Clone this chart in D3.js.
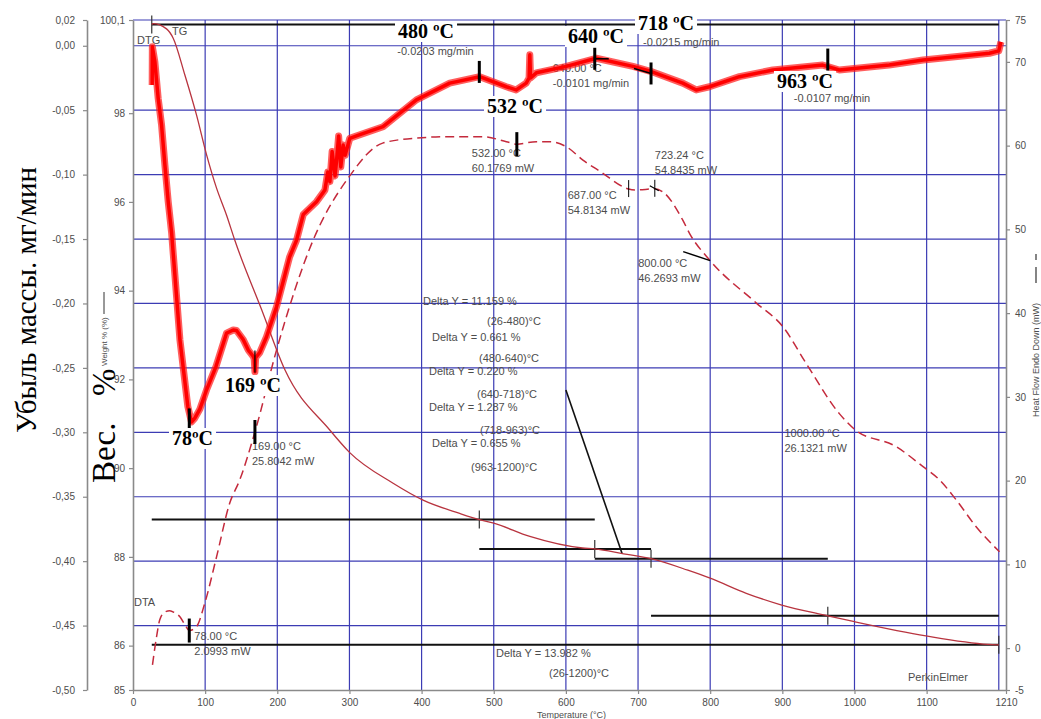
<!DOCTYPE html>
<html>
<head>
<meta charset="utf-8">
<script src="https://cdn.jsdelivr.net/npm/d3@7"></script>
<style>
  html, body { margin: 0; padding: 0; background: #fff; }
  svg { display: block; }
</style>
</head>
<body>
<svg id="chart" width="1041" height="719"></svg>
<script>
// ---------- TG: weight % vs temperature ----------
const tgTemp   = [26, 28, 46.5, 55.7, 71.9, 88, 102, 115.8, 129.7, 141, 178.6, 210.7, 272.7, 300.4, 360.5, 402, 452.8, 480, 500, 550, 623, 640, 680, 718, 769, 800, 850, 898, 963, 1000, 1099, 1185, 1200];
const tgWeight = [100.0, 100.02, 99.9, 99.69, 98.86, 97.96, 97.06, 96.31, 95.7, 95.14, 93.56, 92.21, 90.86, 90.35, 89.66, 89.28, 88.98, 88.841, 88.76, 88.46, 88.2, 88.18, 88.07, 87.96, 87.7, 87.52, 87.18, 86.92, 86.673, 86.54, 86.22, 86.03, 86.018];

// ---------- DTG: mass loss rate, mg/min ----------
const dtgTemp = [26.6, 26.8, 30.3, 34.9, 39.6, 44.2, 48.8, 53.5, 65, 76, 81, 85.7, 92.7, 102, 115, 129.7, 138.9, 143.5, 152.7, 159.6, 166.5, 168, 169, 170, 175.8, 185, 199, 217, 226.6, 236, 254.4, 266, 270, 272.9, 276, 280, 282, 285, 288, 291.3, 294, 300.5, 314.5, 346.6, 392.8, 439, 480.5, 517.5, 531, 545, 549, 550, 551, 559, 600.6, 642, 693, 718.4, 762, 780.7, 799, 840.6, 886.8, 956, 979, 1048, 1095, 1187, 1200, 1203];
const dtgRate = [-0.0304, -0.0007, -0.0124, -0.0408, -0.0615, -0.0925, -0.121, -0.145, -0.228, -0.280, -0.292, -0.289, -0.282, -0.267, -0.249, -0.223, -0.2206, -0.221, -0.228, -0.236, -0.241, -0.243, -0.253, -0.242, -0.238, -0.226, -0.2025, -0.164, -0.151, -0.131, -0.121, -0.112, -0.098, -0.1055, -0.082, -0.101, -0.090, -0.070, -0.094, -0.077, -0.085, -0.0718, -0.069, -0.0628, -0.042, -0.029, -0.024, -0.0318, -0.0343, -0.029, -0.025, -0.007, -0.025, -0.021, -0.016, -0.0097, -0.016, -0.020, -0.029, -0.0343, -0.0318, -0.024, -0.0188, -0.015, -0.0188, -0.015, -0.011, -0.0058, -0.004, 0.003];

// ---------- DTA: heat flow, mW ----------
const dtaTemp = [27, 32, 37, 44, 51, 58, 65, 72, 78, 88, 99.6, 115.8, 134, 148, 169, 199, 249.6, 298, 346, 393, 439, 485, 517.5, 532, 559, 577.5, 600.6, 623.6, 651.3, 679, 687, 697, 723.24, 734, 762, 771.5, 800, 864, 900.6, 933, 979, 1000, 1057.8, 1094.6, 1117.7, 1141, 1168.6, 1201];
const dtaHeat = [-2.0, 1.0, 3.36, 4.3, 4.47, 4.2, 3.75, 2.8, 2.0993, 2.56, 5.4, 10.9, 17.3, 20.1, 25.8042, 35.6, 48.7, 56.1, 60.3, 60.9, 61.07, 61.07, 60.47, 60.1769, 60.47, 60.47, 59.87, 58.28, 56.7, 55.1, 54.8134, 54.7, 54.8435, 54.5, 51.1, 49.5, 46.2693, 41.2, 38.4, 34.0, 28.0, 26.1321, 24.05, 21.7, 20.1, 17.7, 14.5, 11.5];

// ---------- weight-loss steps ----------
const stepRanges = [[26, 480], [480, 640], [640, 718], [718, 963], [963, 1200]];
const stepDeltas = [11.159, 0.661, 0.220, 1.287, 0.655];
const totalRange = [26, 1200];
const totalDelta = 13.982;
const startWeight = 100.0;

// ---------- DTG peaks ----------
const dtgPeakTemp = [78, 169, 480, 640, 718, 963];
const dtgPeakRate = [-0.290, -0.245, -0.0203, -0.0101, -0.0215, -0.0107];

// ---------- DTA points ----------
const dtaPointTemp = [78, 169, 532, 687, 723.24, 800, 1000];
const dtaPointHeat = [2.0993, 25.8042, 60.1769, 54.8134, 54.8435, 46.2693, 26.1321];

// ---------- ticks ----------
const tempTicks = [0, 100, 200, 300, 400, 500, 600, 700, 800, 900, 1000, 1100, 1210];
const tempGrid = [100, 200, 300, 400, 500, 600, 700, 800, 900, 1000, 1100, 1200];
const rateTicks = [0.02, 0, -0.05, -0.10, -0.15, -0.20, -0.25, -0.30, -0.35, -0.40, -0.45, -0.50];
const weightTicks = [100.1, 98, 96, 94, 92, 90, 88, 86, 85];
const heatTicks = [75, 70, 60, 50, 40, 30, 20, 10, 0, -5];

// ================= drawing =================
const svg = d3.select("#chart");
const FONT = "Arial, 'Liberation Sans', sans-serif";
const SERIF = "'Liberation Serif', 'Times New Roman', serif";
const GRID = "#3c3cb4";
const AXIS = "#8a8a8a";
const TXT = "#4d4d4d";

const x = d3.scaleLinear().domain([0, 1210]).range([133, 1006]);
const yRate = d3.scaleLinear().domain([-0.5, 0.02]).range([690, 20]);
const yWt = d3.scaleLinear().domain([85, 100.1]).range([690, 20]);
const yHeat = d3.scaleLinear().domain([-5, 75]).range([690, 20]);
const [xL, xR] = x.range();
const [yB, yT] = yRate.range();

const ru = d3.formatLocale({decimal: ",", thousands: "\u00a0", grouping: [3], currency: ["", ""], minus: "-"});

// grid
const grid = svg.append("g");
grid.selectAll("line.v").data(tempGrid).join("line")
  .attr("x1", d => x(d)).attr("x2", d => x(d)).attr("y1", yT).attr("y2", yB)
  .attr("stroke", GRID).attr("stroke-width", 1.2);
grid.selectAll("line.h").data(rateTicks.filter(d => d > -0.5)).join("line")
  .attr("x1", xL).attr("x2", xR).attr("y1", d => yRate(d)).attr("y2", d => yRate(d))
  .attr("stroke", GRID).attr("stroke-width", 1.2);

function styleAxis(g) {
  g.select(".domain").attr("stroke", AXIS).attr("stroke-width", 1.6);
  g.selectAll(".tick line").attr("stroke", AXIS).attr("stroke-width", 1.2);
  g.selectAll("text").attr("fill", TXT).attr("font-size", 10).attr("font-family", FONT);
}

svg.append("g").attr("transform", "translate(87,0)")
  .call(d3.axisLeft(yRate).tickValues(rateTicks).tickSize(4).tickSizeOuter(0).tickPadding(8)
    .tickFormat(ru.format(".2f")))
  .call(styleAxis);
svg.append("g").attr("transform", `translate(${xL},0)`)
  .call(d3.axisLeft(yWt).tickValues(weightTicks).tickSize(4).tickSizeOuter(0).tickPadding(4)
    .tickFormat(d => Number.isInteger(d) ? String(d) : ru.format(".1f")(d)))
  .call(styleAxis);
svg.append("g").attr("transform", `translate(${xR},0)`)
  .call(d3.axisRight(yHeat).tickValues(heatTicks).tickSize(4).tickSizeOuter(0).tickPadding(5)
    .tickFormat(d => String(d)))
  .call(styleAxis);
svg.append("g").attr("transform", `translate(0,${yB})`)
  .call(d3.axisBottom(x).tickValues(tempTicks).tickSize(4).tickSizeOuter(0).tickPadding(5)
    .tickFormat(d => String(d)))
  .call(styleAxis);

svg.append("text").attr("x", (xL + xR) / 2 + 2).attr("y", 717.5).attr("text-anchor", "middle")
  .attr("font-family", FONT).attr("font-size", 9).attr("fill", TXT).text("Temperature (°C)");

// ---------- step levels (black bars) ----------
const levels = [startWeight];
stepDeltas.forEach(d => levels.push(+(levels[levels.length - 1] - d).toFixed(3)));
const bars = [];
bars.push({w: startWeight, t0: totalRange[0], t1: totalRange[1]});
bars.push({w: startWeight - totalDelta, t0: totalRange[0], t1: totalRange[1]});
for (let i = 0; i < stepRanges.length - 1; i++) {
  bars.push({w: levels[i + 1], t0: stepRanges[i][0], t1: stepRanges[i + 1][1]});
}
const barG = svg.append("g");
barG.selectAll("line").data(bars).join("line")
  .attr("x1", d => x(d.t0)).attr("x2", d => x(d.t1))
  .attr("y1", d => yWt(d.w)).attr("y2", d => yWt(d.w))
  .attr("stroke", "#111").attr("stroke-width", 2);
// small ticks where each step starts / ends
const stepTicks = [{t: totalRange[0], w: startWeight}].concat(stepRanges.map((r, i) => ({t: r[1], w: levels[i + 1]})));
barG.selectAll("line.tk").data(stepTicks).join("line")
  .attr("x1", d => x(d.t)).attr("x2", d => x(d.t))
  .attr("y1", d => yWt(d.w) - 9).attr("y2", d => yWt(d.w) + 9)
  .attr("stroke", "#333").attr("stroke-width", 1.2);
// leader from the step labels to the 640-718 step
barG.append("line")
  .attr("x1", x(600)).attr("y1", yWt(91.76)).attr("x2", x(678)).attr("y2", yWt(88.07))
  .attr("stroke", "#111").attr("stroke-width", 1.6);

// ---------- step labels ----------
const stepLabelPos = [[423, 304.5, 487, 325], [432, 340.5, 479, 362], [429, 374.5, 477, 398], [429, 410.5, 480, 434], [432, 447, 471, 470.5]];
const fmt3 = d3.format(".3f");
const lab = svg.append("g").attr("font-family", FONT).attr("font-size", 11).attr("fill", TXT);
stepRanges.forEach((r, i) => {
  const p = stepLabelPos[i];
  lab.append("text").attr("x", p[0]).attr("y", p[1]).text(`Delta Y = ${fmt3(stepDeltas[i])} %`);
  lab.append("text").attr("x", p[2]).attr("y", p[3]).text(`(${r[0]}-${r[1]})°C`);
});
lab.append("text").attr("x", 496).attr("y", 656.5).text(`Delta Y = ${fmt3(totalDelta)} %`);
lab.append("text").attr("x", 549).attr("y", 677).text(`(${totalRange[0]}-${totalRange[1]})°C`);
lab.append("text").attr("x", 908).attr("y", 680.5).text("PerkinElmer");
lab.append("text").attr("x", 137).attr("y", 44).text("DTG");
lab.append("text").attr("x", 172).attr("y", 35).text("TG");
lab.append("text").attr("x", 134).attr("y", 605.5).text("DTA");

// ---------- DTA annotations ----------
const dtaLabelOff = [[5, 9.5], [-3, 18], [-45, 13], [-61, 10], [0, -30], [-72, 6], [-70, 8]];
const fmt2 = d3.format(".2f"), fmt4 = d3.format(".4f");
dtaPointTemp.forEach((t, i) => {
  const px = x(t), py = yHeat(dtaPointHeat[i]);
  const [dx, dy] = dtaLabelOff[i];
  lab.append("text").attr("x", px + dx).attr("y", py + dy).text(`${fmt2(t)} °C`);
  lab.append("text").attr("x", px + dx).attr("y", py + dy + 15).text(`${fmt4(dtaPointHeat[i])} mW`);
});

// ---------- DTG annotations ----------
const dtgLabelOff = [null, null, [-82, -17], [-42, 28], [-8, -27.5], [-34, 42]];
const fmtRate = d3.format(".4f");
dtgPeakTemp.forEach((t, i) => {
  const o = dtgLabelOff[i];
  if (!o) return;
  const px = x(t), py = yRate(dtgPeakRate[i]);
  lab.append("text").attr("x", px + o[0]).attr("y", py + o[1])
    .text(`${fmtRate(dtgPeakRate[i]).replace("\u2212", "-")} mg/min`);
});
// temperature line of the 640 peak (partly under the DTG trace)
lab.append("text").attr("x", x(640) - 42).attr("y", yRate(-0.0101) + 13).text("640.00 °C");

// ---------- curves ----------
const tgLine = d3.line().x(d => x(d[0])).y(d => yWt(d[1])).curve(d3.curveMonotoneX);
svg.append("path").datum(d3.zip(tgTemp, tgWeight)).attr("d", tgLine)
  .attr("fill", "none").attr("stroke", "#b8343f").attr("stroke-width", 1.3);

const dtaLine = d3.line().x(d => x(d[0])).y(d => yHeat(d[1])).curve(d3.curveMonotoneX);
svg.append("path").datum(d3.zip(dtaTemp, dtaHeat)).attr("d", dtaLine)
  .attr("fill", "none").attr("stroke", "#c42a3c").attr("stroke-width", 1.5)
  .attr("stroke-dasharray", "9,5");

const dtgLine = d3.line().x(d => x(d[0])).y(d => yRate(d[1]));
const dtgData = d3.zip(dtgTemp, dtgRate);
svg.append("path").datum(dtgData).attr("d", dtgLine)
  .attr("fill", "none").attr("stroke", "#ff1a1a").attr("stroke-width", 7).attr("stroke-opacity", 0.7)
  .attr("stroke-linejoin", "round");
svg.append("path").datum(dtgData).attr("d", dtgLine)
  .attr("fill", "none").attr("stroke", "#f00").attr("stroke-width", 3.5)
  .attr("stroke-linejoin", "round");

// ---------- markers ----------
const mk = svg.append("g").attr("stroke", "#000");
dtgPeakTemp.forEach((t, i) => {
  const px = x(t), py = yRate(dtgPeakRate[i]);
  mk.append("line").attr("x1", px).attr("x2", px).attr("y1", py - 11).attr("y2", py + 11)
    .attr("stroke-width", i === 1 ? 1.2 : 3);
});
// leaders at the 640 and 718 peaks
mk.append("line").attr("x1", x(640)).attr("x2", x(640) + 14)
  .attr("y1", yRate(-0.0101)).attr("y2", yRate(-0.0101)).attr("stroke-width", 1.5);
mk.append("line").attr("x1", x(718) - 17).attr("x2", x(718))
  .attr("y1", yRate(-0.0215) - 5).attr("y2", yRate(-0.0215)).attr("stroke-width", 1.5);

dtaPointTemp.forEach((t, i) => {
  const px = x(t), py = yHeat(dtaPointHeat[i]);
  if (t === 78 || t === 169 || t === 532) {
    mk.append("line").attr("x1", px).attr("x2", px).attr("y1", py - 12).attr("y2", py + 12).attr("stroke-width", 3);
  } else if (t === 687 || t === 723.24) {
    mk.append("line").attr("x1", px).attr("x2", px).attr("y1", py - 9).attr("y2", py + 8).attr("stroke-width", 1);
    if (t === 723.24) mk.append("line").attr("x1", px - 5).attr("x2", px + 4).attr("y1", py - 3).attr("y2", py + 2).attr("stroke-width", 1.2);
  } else if (t === 800) {
    mk.append("line").attr("x1", px - 27).attr("x2", px).attr("y1", py - 9).attr("y2", py).attr("stroke-width", 1.5);
  }
});

// ---------- bold temperature labels ----------
const bigTemp = [480, 718, 640, 532, 963, 169, 78];
const bigPos = [[398, 38], [638, 30], [568, 43], [487, 113], [777, 88], [225, 392], [172, 445]];
const big = svg.append("g");
bigTemp.forEach((t, i) => {
  const g = big.append("g");
  const txt = g.append("text").attr("x", bigPos[i][0]).attr("y", bigPos[i][1])
    .attr("font-family", SERIF).attr("font-weight", "bold").attr("font-size", 20).attr("fill", "#000")
    .text(t === 78 ? `${t}ºC` : `${t} ºC`);
  const b = txt.node().getBBox();
  g.insert("rect", "text").attr("x", b.x - 3).attr("y", b.y + 1).attr("width", b.width + 6).attr("height", b.height - 1)
    .attr("fill", "#fff");
});

// ---------- axis titles ----------
svg.append("text").attr("transform", "translate(36,433) rotate(-90)")
  .attr("font-family", SERIF).attr("font-size", 30).attr("fill", "#000")
  .attr("textLength", 266).attr("lengthAdjust", "spacingAndGlyphs")
  .text("Убыль массы. мг/мин");
svg.append("text").attr("transform", "translate(115,483) rotate(-90)")
  .attr("font-family", SERIF).attr("font-size", 33).attr("fill", "#000")
  .text("Вес.");
svg.append("text").attr("transform", "translate(115,396) rotate(-90)")
  .attr("font-family", SERIF).attr("font-size", 33).attr("fill", "#000")
  .text("%");

svg.append("text").attr("transform", "translate(107,366) rotate(-90)")
  .attr("font-family", FONT).attr("font-size", 8).attr("fill", TXT)
  .text("Weight % (%)");
svg.append("line").attr("x1", 104).attr("x2", 104).attr("y1", 314).attr("y2", 292)
  .attr("stroke", "#333").attr("stroke-width", 1);

svg.append("text").attr("transform", "translate(1039,417) rotate(-90)")
  .attr("font-family", FONT).attr("font-size", 9).attr("fill", TXT)
  .text("Heat Flow Endo Down (mW)");
svg.append("line").attr("x1", 1036).attr("x2", 1036).attr("y1", 283).attr("y2", 267)
  .attr("stroke", "#333").attr("stroke-width", 1.2);
svg.append("line").attr("x1", 1036).attr("x2", 1036).attr("y1", 260).attr("y2", 254)
  .attr("stroke", "#333").attr("stroke-width", 1.2);
</script>
</body>
</html>
